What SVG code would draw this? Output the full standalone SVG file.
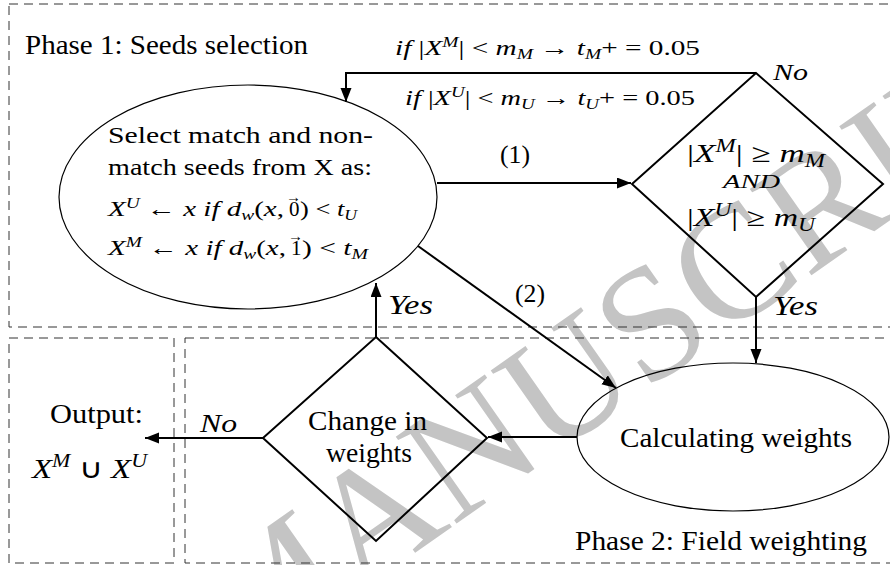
<svg xmlns="http://www.w3.org/2000/svg" width="890" height="565" viewBox="0 0 890 565">
<defs>
<style>
text{font-family:"Liberation Serif",serif;fill:#000}
.i{font-style:italic}
.box{fill:none;stroke:#333;stroke-width:1;stroke-dasharray:9 6}
.ell{fill:none;stroke:#000;stroke-width:1.2}
.dia{fill:none;stroke:#000;stroke-width:2}
.con{fill:none;stroke:#000;stroke-width:2}
.wm{fill:#c4c4c4}
.va{font-size:15px}
</style>
<marker id="ah" markerUnits="userSpaceOnUse" markerWidth="15" markerHeight="12" refX="14" refY="5.5" orient="auto">
<path d="M0,0 L14,5.5 L0,11 z" fill="#000"/>
</marker>
</defs>
<rect width="890" height="565" fill="#fff"/>

<g id="watermark">
<text class="wm" x="239" y="676" font-size="162" transform="rotate(-35 239 676)">MANUSCRIPT</text>
</g>

<g id="containers">
<rect class="box" x="9" y="4" width="890" height="323"/>
<rect class="box" x="9" y="338" width="165" height="225"/>
<rect class="box" x="185" y="338" width="715" height="225"/>
<text x="25" y="54" font-size="27" textLength="283" lengthAdjust="spacingAndGlyphs">Phase 1: Seeds selection</text>
<text x="575" y="550" font-size="27" textLength="292" lengthAdjust="spacingAndGlyphs">Phase 2: Field weighting</text>
</g>

<g id="select">
<ellipse class="ell" cx="248" cy="197" rx="189" ry="112"/>
<text x="108" y="143" font-size="23" textLength="265" lengthAdjust="spacingAndGlyphs">Select match and non-</text>
<text x="108" y="175" font-size="23" textLength="264" lengthAdjust="spacingAndGlyphs">match seeds from X as:</text>
<text x="108" y="216" font-size="21" textLength="176" lengthAdjust="spacingAndGlyphs"><tspan class="i">X</tspan><tspan class="i" font-size="14" dy="-8">U</tspan><tspan dy="8"> ← </tspan><tspan class="i">x if d</tspan><tspan class="i" font-size="14" dy="4">w</tspan><tspan dy="-4">(</tspan><tspan class="i">x</tspan>,</text>
<text x="289" y="216" font-size="21">0</text>
<text class="va" x="286" y="202">→</text>
<text x="300" y="216" font-size="21" textLength="57" lengthAdjust="spacingAndGlyphs">) &lt; <tspan class="i">t</tspan><tspan class="i" font-size="14" dy="4">U</tspan></text>
<text x="108" y="255" font-size="21" textLength="178" lengthAdjust="spacingAndGlyphs"><tspan class="i">X</tspan><tspan class="i" font-size="14" dy="-8">M</tspan><tspan dy="8"> ← </tspan><tspan class="i">x if d</tspan><tspan class="i" font-size="14" dy="4">w</tspan><tspan dy="-4">(</tspan><tspan class="i">x</tspan>,</text>
<text x="291" y="255" font-size="21">1</text>
<text class="va" x="288" y="241">→</text>
<text x="302" y="255" font-size="21" textLength="66" lengthAdjust="spacingAndGlyphs">) &lt; <tspan class="i">t</tspan><tspan class="i" font-size="14" dy="4">M</tspan></text>
</g>

<g id="check">
<polygon class="dia" points="756,73 883,184 756,297 632,184"/>
<text x="687" y="162" font-size="26" textLength="138" lengthAdjust="spacingAndGlyphs">|<tspan class="i">X</tspan><tspan class="i" font-size="18" dy="-10">M</tspan><tspan dy="10">| ≥ </tspan><tspan class="i">m</tspan><tspan class="i" font-size="18" dy="5">M</tspan></text>
<text class="i" x="723" y="188" font-size="19" textLength="57" lengthAdjust="spacingAndGlyphs">AND</text>
<text x="687" y="226" font-size="26" textLength="128" lengthAdjust="spacingAndGlyphs">|<tspan class="i">X</tspan><tspan class="i" font-size="18" dy="-10">U</tspan><tspan dy="10">| ≥ </tspan><tspan class="i">m</tspan><tspan class="i" font-size="18" dy="5">U</tspan></text>
</g>

<g id="calc">
<ellipse class="ell" cx="733" cy="437" rx="156" ry="74"/>
<text x="620" y="447" font-size="27" textLength="232" lengthAdjust="spacingAndGlyphs">Calculating weights</text>
</g>

<g id="change">
<polygon class="dia" points="376,337 487,438 376,541 263,438"/>
<text x="308" y="430" font-size="27" textLength="119" lengthAdjust="spacingAndGlyphs">Change in</text>
<text x="326" y="462" font-size="27" textLength="86" lengthAdjust="spacingAndGlyphs">weights</text>
</g>

<g id="output">
<text x="50" y="423" font-size="27" textLength="93" lengthAdjust="spacingAndGlyphs">Output:</text>
<text x="32" y="478" font-size="27" textLength="115" lengthAdjust="spacingAndGlyphs"><tspan class="i">X</tspan><tspan class="i" font-size="18" dy="-11">M</tspan><tspan dy="11"> ∪ </tspan><tspan class="i">X</tspan><tspan class="i" font-size="18" dy="-11">U</tspan></text>
</g>

<g id="connectors">
<path class="con" d="M756,73 H346 V102" marker-end="url(#ah)"/>
<path class="con" d="M437,183 H631" marker-end="url(#ah)"/>
<path class="con" d="M418,246 L616,388" marker-end="url(#ah)"/>
<path class="con" d="M756,297 V363" marker-end="url(#ah)"/>
<path class="con" d="M577,437 H488" marker-end="url(#ah)"/>
<path class="con" d="M263,438 H145" marker-end="url(#ah)"/>
<path class="con" d="M376,337 V283" marker-end="url(#ah)"/>
<text x="395" y="55" font-size="21" textLength="305" lengthAdjust="spacingAndGlyphs"><tspan class="i">if</tspan> |<tspan class="i">X</tspan><tspan class="i" font-size="14" dy="-8">M</tspan><tspan dy="8">| &lt; </tspan><tspan class="i">m</tspan><tspan class="i" font-size="14" dy="4">M</tspan><tspan dy="-4"> → </tspan><tspan class="i">t</tspan><tspan class="i" font-size="14" dy="4">M</tspan><tspan dy="-4">+ = 0.05</tspan></text>
<text x="405" y="105" font-size="21" textLength="290" lengthAdjust="spacingAndGlyphs"><tspan class="i">if</tspan> |<tspan class="i">X</tspan><tspan class="i" font-size="14" dy="-8">U</tspan><tspan dy="8">| &lt; </tspan><tspan class="i">m</tspan><tspan class="i" font-size="14" dy="4">U</tspan><tspan dy="-4"> → </tspan><tspan class="i">t</tspan><tspan class="i" font-size="14" dy="4">U</tspan><tspan dy="-4">+ = 0.05</tspan></text>
<text class="i" x="773" y="80" font-size="24" textLength="35" lengthAdjust="spacingAndGlyphs">No</text>
<text x="500" y="163" font-size="26" textLength="30" lengthAdjust="spacingAndGlyphs">(1)</text>
<text x="515" y="302" font-size="26" textLength="30" lengthAdjust="spacingAndGlyphs">(2)</text>
<text class="i" x="773" y="315" font-size="27" textLength="45" lengthAdjust="spacingAndGlyphs">Yes</text>
<text class="i" x="388" y="314" font-size="27" textLength="45" lengthAdjust="spacingAndGlyphs">Yes</text>
<text class="i" x="200" y="432" font-size="26" textLength="37" lengthAdjust="spacingAndGlyphs">No</text>
</g>
</svg>
